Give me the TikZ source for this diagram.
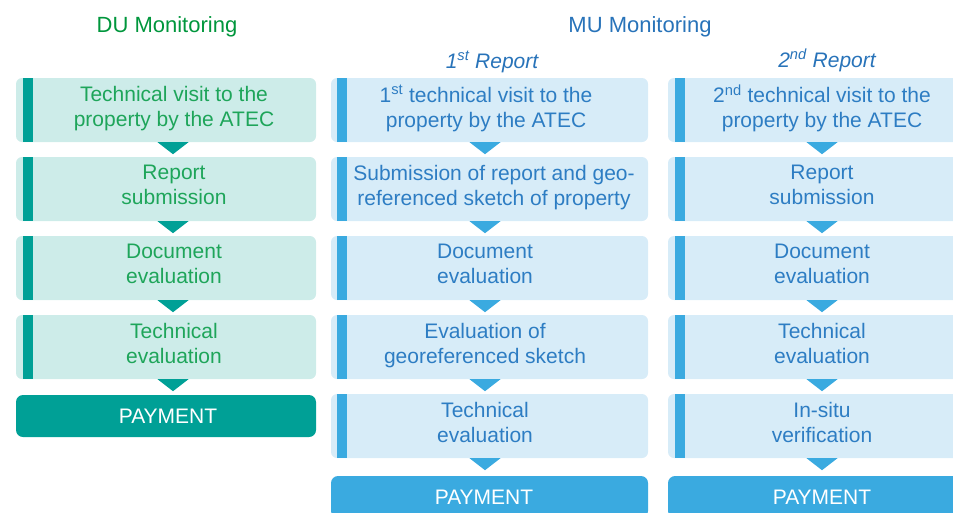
\documentclass[tikz,border=0pt]{standalone}
\usepackage{fontspec}
\setmainfont{Liberation Sans}
\usepackage{xcolor}
\usetikzlibrary{calc}

\definecolor{duteal}{RGB}{0,160,150}
\definecolor{dulight}{RGB}{205,236,233}
\definecolor{dutext}{RGB}{30,165,90}
\definecolor{dutitle}{RGB}{0,150,60}
\definecolor{mublue}{RGB}{58,170,224}
\definecolor{mulight}{RGB}{215,236,248}
\definecolor{mutext}{RGB}{45,125,195}
\definecolor{mutitle}{RGB}{40,115,185}

\begin{document}
\begin{tikzpicture}[x=1pt, y=-1pt,
        font=\fontsize{21}{25}\selectfont,
        dubox/.style={fill=dulight, rounded corners=6pt, minimum width=300, minimum height=64, inner sep=0pt},
        mubox/.style={dubox, fill=mulight, minimum width=317},
        dutxt/.style={text=dutext, align=center, inner sep=0pt, execute at begin node=\strut, execute at end node=\strut},
        mutxt/.style={dutxt, text=mutext},
        dupay/.style={fill=duteal, rounded corners=7pt, minimum width=300, minimum height=42, inner sep=0pt},
        mupay/.style={dupay, fill=mublue, minimum width=317},
        paytxt/.style={text=white, inner sep=0pt},
        head/.style={anchor=base, font=\fontsize{22}{26}\selectfont},
        rep/.style={anchor=base, text=mutitle, font=\fontsize{21}{25}\selectfont\itshape}
      ]
  \useasboundingbox (0,0) rectangle (953,512);
  \clip (0,0) rectangle (953,512);

  % DU
  \node[head, text=dutitle] (duhead) at (167,32) {DU Monitoring};
  \foreach \i/\txt in {1/{Technical visit to the\\property by the ATEC}, 2/{Report\\submission},
                       3/{Document\\evaluation}, 4/{Technical\\evaluation}} {
    \pgfmathsetmacro{\yc}{110+79*(\i-1)}
    \node[dubox] (d\i) at (166,\yc) {};
    \fill[duteal] ($(d\i.north west)+(7,0)$) rectangle ($(d\i.south west)+(17,0)$);
    \node[dutxt] (dt\i) at (174,\yc) {\txt};
    \fill[duteal] ($(d\i.south)+(-8.5,0)$) -- ++(31,0) -- ++(-15.5,12) -- cycle;
  }
  \node[dupay] (dpay) at (166,416) {};
  \node[paytxt] (dpt) at (168,416) {PAYMENT};

  % MU, 1st report
  \node[head, text=mutitle] (muhead) at (640,32) {MU Monitoring};
  \node[rep] (rep1) at (492,68) {1\textsuperscript{st} Report};
  \foreach \i/\tx/\txt in {1/486/{1\textsuperscript{st} technical visit to the\\property by the ATEC},
                           2/494/{Submission of report and geo-\\referenced sketch of property},
                           3/485/{Document\\evaluation}, 4/485/{Evaluation of\\georeferenced sketch},
                           5/485/{Technical\\evaluation}} {
    \pgfmathsetmacro{\yc}{110+79*(\i-1)}
    \node[mubox] (m\i) at (489.5,\yc) {};
    \fill[mublue] ($(m\i.north west)+(6,0)$) rectangle ($(m\i.south west)+(16,0)$);
    \node[mutxt] (mt\i) at (\tx,\yc) {\txt};
    \fill[mublue] ($(m\i.south)+(-20,0)$) -- ++(31,0) -- ++(-15.5,12) -- cycle;
  }
  \node[mupay] (mpay) at (489.5,497) {};
  \node[paytxt] (mpt) at (484,497) {PAYMENT};

  % MU, 2nd report
  \node[rep] (rep2) at (827,67) {2\textsuperscript{nd} Report};
  \foreach \i/\txt in {1/{2\textsuperscript{nd} technical visit to the\\property by the ATEC}, 2/{Report\\submission},
                       3/{Document\\evaluation}, 4/{Technical\\evaluation}, 5/{In-situ\\verification}} {
    \pgfmathsetmacro{\yc}{110+79*(\i-1)}
    \node[mubox] (n\i) at (826.5,\yc) {};
    \fill[mublue] ($(n\i.north west)+(7,0)$) rectangle ($(n\i.south west)+(17,0)$);
    \node[mutxt] (nt\i) at (822,\yc) {\txt};
    \fill[mublue] ($(n\i.south)+(-20,0)$) -- ++(31,0) -- ++(-15.5,12) -- cycle;
  }
  \node[mupay] (npay) at (826.5,497) {};
  \node[paytxt] (npt) at (822,497) {PAYMENT};

\end{tikzpicture}
\end{document}
